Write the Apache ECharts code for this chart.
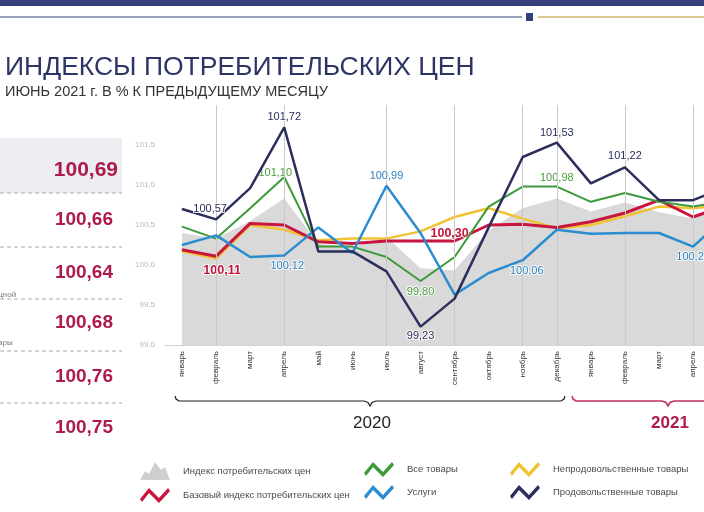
<!DOCTYPE html>
<html><head><meta charset="utf-8">
<script src="https://cdn.jsdelivr.net/npm/echarts@6/dist/echarts.min.js"></script>
<style>html,body{margin:0;padding:0;background:#fff;overflow:hidden;width:704px;height:512px}#c{width:800px;height:512px}</style>
</head><body><div id="c"></div>
<script>
// ---- data ----
const months = ['январь','февраль','март','апрель','май','июнь','июль','август','сентябрь','октябрь','ноябрь','декабрь','январь','февраль','март','апрель','май','июнь'];
const yTicks = [99, 99.5, 100, 100.5, 101, 101.5];
const cpi      = [100.40,100.33,100.55,100.83,100.27,100.22,100.35,99.96,99.93,100.43,100.71,100.83,100.67,100.78,100.66,100.58,100.74,100.69];
const baseCpi  = [100.19,100.11,100.52,100.50,100.29,100.27,100.30,100.30,100.30,100.50,100.51,100.47,100.54,100.65,100.81,100.60,100.75,100.66];
const goods    = [100.48,100.33,100.71,101.10,100.23,100.23,100.10,99.80,100.10,100.73,100.98,100.98,100.79,100.90,100.79,100.73,100.80,100.64];
const services = [100.25,100.37,100.10,100.12,100.47,100.15,100.99,100.40,99.63,99.90,100.06,100.44,100.39,100.40,100.40,100.23,100.62,100.75];
const nonfood  = [100.17,100.08,100.50,100.44,100.31,100.33,100.33,100.42,100.60,100.71,100.58,100.46,100.50,100.61,100.73,100.71,100.75,100.76];
const food     = [100.70,100.57,100.96,101.72,100.17,100.17,99.92,99.23,99.58,100.47,101.35,101.53,101.02,101.22,100.81,100.81,100.98,100.68];
const panelValues = ['100,69','100,66','100,64','100,68','100,76','100,75'];
const years = ['2020','2021'];
const names = ['Индекс потребительских цен','Базовый индекс потребительских цен','Все товары','Услуги','Непродовольственные товары','Продовольственные товары'];

// ---- styling / layout ----
const C = {navy:'#2c2f5c', green:'#3c9a3a', blue:'#2b8dd0', yellow:'#f1c232', red:'#c8163f', gray:'#d9d9d9'};
const fmt = v => v.toFixed(2).replace('.', ',');
function labelled(vals, spec, color, extra) {
  return vals.map((v, i) => spec[i] ? {value: v, label: Object.assign({
    show: true, formatter: fmt(v), color: color, fontSize: 11,
    fontFamily: 'Liberation Sans, Arial, sans-serif',
    textBorderColor: 'rgba(255,255,255,0.85)', textBorderWidth: 2
  }, extra || {}, spec[i])} : v);
}
const zig = 'path://M0,12 L9,1 L19,11 L28,1 L30,4 L19,16 L9,6 L2,15 Z';
const mountain = 'path://M0,20 L5,11 L9,14 L15,2 L21,10 L25,7 L30,20 Z';

const chart = echarts.init(document.getElementById('c'), null, {renderer: 'canvas'});
const gridLeft = 165, gridTop = 105, gridH = 240, band = 34.07;

const brace = (x1, x2, tip, y) => [[x1,y-5],[x1+1,y-2],[x1+4,y],[tip-6,y],[tip-2,y+1.5],[tip,y+5],[tip+2,y+1.5],[tip+6,y],[x2-4,y],[x2-1,y-2],[x2,y-5]];

const graphics = [
  {type:'rect', shape:{x:0,y:0,width:704,height:6}, style:{fill:'#34407a'}},
  {type:'line', shape:{x1:0,y1:17,x2:522,y2:17}, style:{stroke:'#34407a', lineWidth:1.2}},
  {type:'rect', shape:{x:526,y:13,width:7,height:8}, style:{fill:'#34407a'}},
  {type:'line', shape:{x1:538,y1:17,x2:704,y2:17}, style:{stroke:'#cbb86e', lineWidth:1.5}},
  {type:'text', x:5, y:54, style:{text:'ИНДЕКСЫ ПОТРЕБИТЕЛЬСКИХ ЦЕН', fill:'#2d3466', font:'26.5px "Liberation Sans", Arial, sans-serif'}},
  {type:'text', x:5, y:84, style:{text:'ИЮНЬ 2021 г. В % К ПРЕДЫДУЩЕМУ МЕСЯЦУ', fill:'#333', font:'14.5px "Liberation Sans", Arial, sans-serif'}},
  {type:'rect', shape:{x:0,y:138,width:122,height:55}, style:{fill:'#eceef1'}},
  {type:'text', x:-160, y:291, style:{text:'продовольственные товары без плодоовощной', fill:'#777', font:'8px "Liberation Sans", sans-serif'}},
  {type:'text', x:-100, y:339, style:{text:'непродовольственные товары', fill:'#777', font:'8px "Liberation Sans", sans-serif'}},
  {type:'polyline', shape:{points:brace(175,565,370,401)}, style:{stroke:'#1f1f1f', lineWidth:1.2, fill:null}},
  {type:'polyline', shape:{points:brace(572,767,668,401)}, style:{stroke:'#c0325a', lineWidth:1.6, fill:null}},
  {type:'text', x:372, y:423, style:{text:years[0], fill:'#222', font:'17px "Liberation Sans", Arial, sans-serif', align:'center', verticalAlign:'middle'}},
  {type:'text', x:670, y:423, style:{text:years[1], fill:'#b01a4b', font:'bold 17px "Liberation Sans", Arial, sans-serif', align:'center', verticalAlign:'middle'}}
];
[193,247,299,351,403].forEach(y => graphics.push({type:'line', shape:{x1:0,y1:y,x2:122,y2:y}, style:{stroke:'#a8a8a8', lineWidth:1, lineDash:[4,3]}}));
const panelY = [170,220,273,323,377,428];
panelValues.forEach((t, i) => graphics.push({type:'text', x: i === 0 ? 118 : 113, y: panelY[i],
  style:{text:t, fill:'#ae1a4c', font:'bold ' + (i === 0 ? 21 : 19) + 'px "Liberation Sans", Arial, sans-serif', align:'right', verticalAlign:'middle'}}));

const legendBase = {orient:'vertical', top:462, padding:0, itemWidth:30, itemHeight:18, itemGap:8, selectedMode:false,
  textStyle:{fontSize:9.5, color:'#4a4a4a', fontFamily:'Liberation Sans, Arial, sans-serif', padding:[0,0,0,8]}};

const lineCommon = {type:'line', symbol:'circle', symbolSize:1, showSymbol:true, showAllSymbol:true};

chart.setOption({
  animation: false,
  backgroundColor: '#ffffff',
  graphic: graphics,
  legend: [
    Object.assign({left:140, data:[{name:names[0], icon:mountain},{name:names[1], icon:zig}]}, legendBase),
    Object.assign({left:364, data:[{name:names[2], icon:zig},{name:names[3], icon:zig}]}, legendBase),
    Object.assign({left:510, data:[{name:names[4], icon:zig},{name:names[5], icon:zig}]}, legendBase)
  ],
  grid: {left: gridLeft, top: gridTop, width: band * months.length, height: gridH, containLabel: false},
  xAxis: {type:'category', data: months, boundaryGap: true,
    axisLine:{lineStyle:{color:'#d3d3d3'}}, axisTick:{show:false},
    axisLabel:{rotate:90, interval:0, fontSize:8, color:'#333', margin:6, fontFamily:'Liberation Sans, Arial, sans-serif'},
    splitLine:{show:false}},
  yAxis: {type:'value', min: yTicks[0], max: 102, interval: 0.5,
    axisLine:{show:false}, axisTick:{show:false}, splitLine:{show:false},
    axisLabel:{fontSize:8, color:'#b8b8b8', margin:10, formatter: v => yTicks.indexOf(v) >= 0 ? v.toFixed(1).replace('.', ',') : ''}},
  series: [
    {name:names[0], type:'line', data: cpi, symbol:'none', color:'#cfcfcf', z:1,
      lineStyle:{width:0}, areaStyle:{color:C.gray, origin:'start', opacity:1},
      markLine:{silent:true, symbol:'none', label:{show:false}, lineStyle:{color:'#c9c9c9', type:'solid', width:1},
        data:[1,3,6,8,10,11,13,15].map(i => ({xAxis:i}))}},
    Object.assign({name:names[4], data: nonfood, color:C.yellow, z:2, lineStyle:{width:2.5}}, lineCommon),
    Object.assign({name:names[1], color:C.red, z:3, lineStyle:{width:3},
      data: labelled(baseCpi, {1:{position:'bottom', distance:7, offset:[6,0]}, 8:{position:'top', distance:0, offset:[-5,0]}}, '#c4143c', {fontWeight:'bold', fontSize:12.5})}, lineCommon),
    Object.assign({name:names[2], color:C.green, z:4, lineStyle:{width:2},
      data: labelled(goods, {3:{position:'top', distance:3, offset:[-9,5]}, 7:{position:'bottom', distance:5}, 11:{position:'top', distance:3}}, '#4a9c3c')}, lineCommon),
    Object.assign({name:names[3], color:C.blue, z:5, lineStyle:{width:2.5},
      data: labelled(services, {3:{position:'bottom', distance:5, offset:[3,0]}, 6:{position:'top', distance:4}, 10:{position:'bottom', distance:5, offset:[4,0]}, 15:{position:'bottom', distance:4}}, '#2a80bb')}, lineCommon),
    Object.assign({name:names[5], color:C.navy, z:6, lineStyle:{width:2.5},
      data: labelled(food, {1:{position:'top', distance:4, offset:[-6,0]}, 3:{position:'top', distance:4}, 7:{position:'bottom', distance:3}, 11:{position:'top', distance:4}, 13:{position:'top', distance:5}}, '#2c2f5c')}, lineCommon)
  ]
});
</script></body></html>
